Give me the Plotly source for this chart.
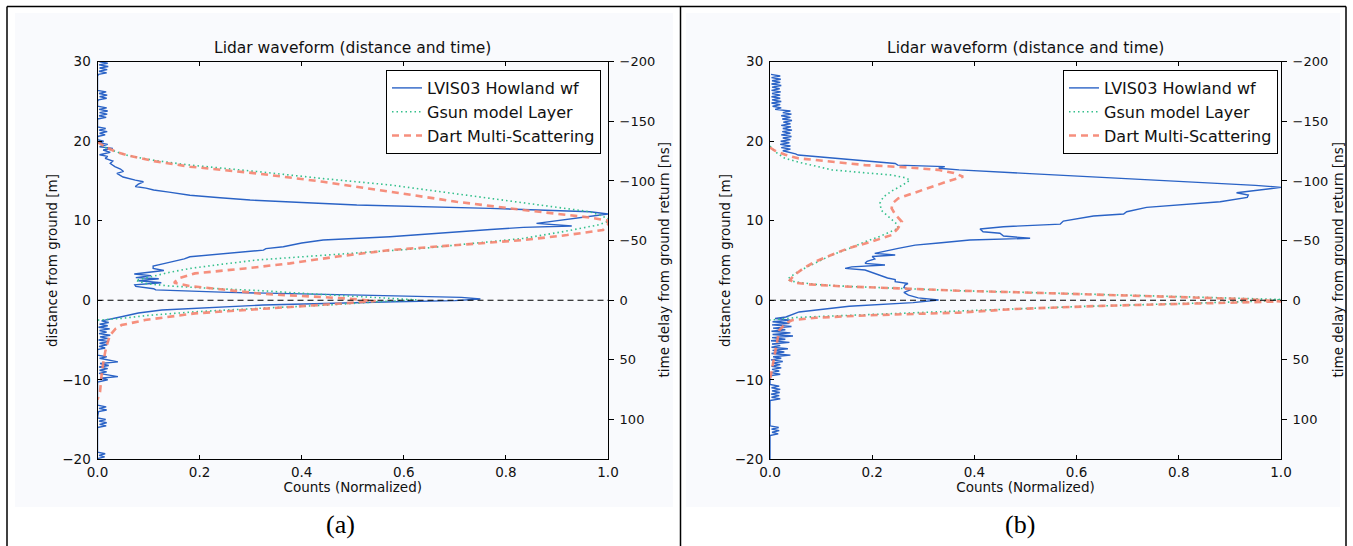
import plotly.graph_objects as go

# ---------------- data ----------------
# Panel (a)
lvis_a_dist = [30.0, 29.8, 29.6, 29.4, 29.2, 29.0, 28.8, 28.6, 28.4, 28.2, 26.4, 26.2, 26.0, 25.8, 25.6, 25.4, 25.2, 25.0,
               24.4, 24.2, 24.0, 23.8, 23.6, 23.4, 23.2, 23.0, 22.8, 21.8, 21.6, 21.4, 21.2, 21.0, 20.8, 20.6, 20.2,
               20.0, 19.8, 19.6, 19.3, 19.1, 18.9, 18.6, 18.3, 18.1, 17.85, 17.5, 17.2, 16.8, 16.5, 16.2, 15.96, 15.5,
               15.1, 14.9, 14.6, 14.3, 14.1, 13.86, 13.6, 13.2, 12.9, 12.6, 12.3, 11.97, 11.56, 11.13, 10.85, 10.6,
               10.0, 9.67, 9.33, 9.17, 8.9, 8.62, 7.99, 7.57, 7.2, 6.73, 6.5, 6.31, 5.9, 5.6, 5.47, 5.2, 4.84, 4.6,
               4.3, 4.0, 3.75, 3.6, 3.3, 3.1, 2.85, 2.7, 2.45, 2.2, 1.95, 1.75, 1.45, 1.3, 0.99, 0.65, 0.36, 0.15,
               -0.05, -0.19, -0.6, -1.23, -1.6, -2.07, -2.4, -2.6, -2.8, -3.0, -3.2, -3.4, -3.6, -3.8, -4.0, -4.2,
               -4.4, -4.6, -4.8, -5.0, -5.2, -5.4, -5.6, -5.8, -6.0, -6.2, -6.9, -7.1, -7.3, -7.55, -7.75, -7.95,
               -8.2, -8.4, -8.6, -8.8, -9.0, -9.2, -9.6, -9.8, -10.0, -10.3, -13.2, -13.4, -13.6, -13.8, -14.0,
               -14.8, -15.0, -15.2, -15.4, -15.6, -15.8, -16.0, -19.1, -19.3, -19.5, -19.7, -19.9, -20.0]
lvis_a_counts = [0.004, 0.02, 0.003, 0.021, 0.004, 0.019, 0.003, 0.018, 0.002, 0.0, 0.0, 0.017, 0.003, 0.019, 0.004, 0.018, 0.002, 0.0,
                 0.0, 0.018, 0.003, 0.02, 0.004, 0.019, 0.003, 0.017, 0.0, 0.0, 0.016, 0.003, 0.019, 0.004, 0.015, 0.0, 0.0,
                 0.012, 0.003, 0.02, 0.004, 0.03, 0.011, 0.025, 0.004, 0.02, 0.015, 0.03, 0.025, 0.034, 0.045, 0.051, 0.038, 0.05,
                 0.074, 0.09, 0.08, 0.074, 0.095, 0.11, 0.14, 0.181, 0.24, 0.299, 0.4, 0.508, 0.769, 0.965, 1.0, 0.97,
                 0.9, 0.86, 0.929, 0.834, 0.77, 0.704, 0.573, 0.442, 0.4, 0.364, 0.33, 0.325, 0.253, 0.21, 0.181, 0.17, 0.142, 0.13,
                 0.109, 0.109, 0.13, 0.11, 0.072, 0.105, 0.075, 0.12, 0.08, 0.125, 0.073, 0.075, 0.11, 0.114, 0.256, 0.517, 0.713, 0.75,
                 0.7, 0.583, 0.324, 0.126, 0.08, 0.047, 0.025, 0.008, 0.022, 0.004, 0.02, 0.002, 0.024, 0.004, 0.018, 0.003,
                 0.025, 0.005, 0.02, 0.002, 0.022, 0.004, 0.019, 0.003, 0.015, 0.0, 0.0, 0.018, 0.004, 0.025, 0.04, 0.005,
                 0.022, 0.003, 0.02, 0.004, 0.018, 0.003, 0.04, 0.005, 0.02, 0.0, 0.0, 0.017, 0.003, 0.018, 0.002,
                 0.0, 0.016, 0.003, 0.018, 0.004, 0.017, 0.0, 0.0, 0.015, 0.003, 0.014, 0.0, 0.0]

gsun_a_dist = [19.8, 19.2, 18.6, 18.2, 17.6, 17.0, 16.2, 15.3, 14.5, 13.4, 12.2, 11.13, 10.3, 9.9, 9.46, 8.6, 7.78, 7.1,
               6.53, 6.1, 5.69, 5.06, 4.5, 4.0, 3.5, 2.96, 2.5, 2.1, 1.8, 1.5, 1.2, 0.8, 0.5, 0.24, 0.05, -0.15, -0.6,
               -1.0, -1.45, -1.9, -2.28, -2.5]
gsun_a_counts = [0.0, 0.015, 0.04, 0.06, 0.11, 0.181, 0.311, 0.442, 0.573, 0.703, 0.834, 0.965, 1.0, 1.0, 0.98, 0.91, 0.834, 0.73,
                 0.638, 0.54, 0.442, 0.312, 0.24, 0.181, 0.14, 0.103, 0.075, 0.095, 0.14, 0.22, 0.322, 0.42, 0.5, 0.583, 0.625, 0.56, 0.452,
                 0.32, 0.191, 0.1, 0.047, 0.0]

dart_a_dist = [19.9, 19.3, 18.7, 18.2, 17.5, 16.8, 15.96, 14.9, 13.65, 12.39, 11.35, 10.4, 10.0, 9.5, 8.83, 8.2, 7.57, 6.9,
               6.31, 5.5, 4.64, 4.0, 3.38, 2.75, 2.2, 1.8, 1.3, 0.8, 0.24, -0.1, -0.4, -0.82, -1.65, -2.49, -3.12, -3.6,
               -4.4, -5.5, -6.5, -8.0, -9.4, -11.5, -12.5]
dart_a_counts = [0.0, 0.015, 0.035, 0.06, 0.11, 0.181, 0.311, 0.442, 0.573, 0.703, 0.834, 0.965, 1.0, 1.0, 0.99, 0.92, 0.834, 0.7,
                 0.573, 0.47, 0.377, 0.289, 0.191, 0.158, 0.15, 0.18, 0.25, 0.324, 0.485, 0.545, 0.48, 0.387, 0.191, 0.093, 0.047, 0.035,
                 0.0245, 0.019, 0.015, 0.011, 0.008, 0.005, 0.0]

# Panel (b)
lvis_b_dist = [28.4, 28.2, 28.0, 27.8, 27.6, 27.4, 27.2, 27.0, 26.8, 26.6, 26.4, 26.2, 26.0, 25.8, 25.6, 25.4, 25.2, 25.0,
               24.8, 24.6, 24.4, 24.2, 24.0, 23.8, 23.6, 23.4, 23.2, 23.0, 22.8, 22.6, 22.4, 22.2, 22.0, 21.8, 21.6,
               21.4, 21.2, 21.0, 20.8, 20.6, 20.4, 20.2, 20.0, 19.8, 19.6, 19.4, 19.2, 19.0, 18.8, 18.6, 18.4, 18.26,
               18.0, 17.6, 17.2, 17.0, 16.8, 16.6, 16.4, 15.96, 15.4, 14.9, 14.7, 14.45, 14.2, 13.52, 13.23, 12.94,
               12.39, 11.68, 11.13, 10.84, 10.59, 9.96, 9.58, 9.25, 8.96, 8.62, 8.42, 8.08, 7.79, 7.57, 7.2, 6.94,
               6.52, 6.1, 5.9, 5.7, 5.5, 5.2, 4.9, 4.64, 4.43, 4.2, 4.01, 3.8, 3.5, 3.17, 2.8, 2.6, 2.33, 2.1, 1.91,
               1.6, 1.3, 1.0, 0.65, 0.3, 0.03, -0.3, -0.75, -1.47, -2.1, -2.3, -2.5, -2.7, -2.9, -3.1, -3.3, -3.5,
               -3.7, -3.9, -4.1, -4.3, -4.5, -4.7, -4.9, -5.1, -5.3, -5.5, -5.7, -5.9, -6.1, -6.3, -6.5, -6.7, -6.9,
               -7.1, -7.3, -7.5, -7.7, -7.9, -8.1, -8.3, -8.5, -8.7, -8.9, -9.1, -9.3, -9.5, -10.6, -10.8, -11.0,
               -11.2, -11.4, -11.6, -11.8, -12.0, -12.2, -12.4, -12.6, -15.8, -16.0, -16.2, -16.4, -16.6, -16.8,
               -17.0, -20.0]
lvis_b_counts = [0.002, 0.02, 0.003, 0.021, 0.004, 0.02, 0.003, 0.022, 0.004, 0.019, 0.003, 0.021, 0.004, 0.02, 0.003, 0.02, 0.004, 0.022,
                 0.003, 0.02, 0.005, 0.022, 0.01, 0.04, 0.025, 0.042, 0.022, 0.04, 0.024, 0.043, 0.026, 0.04, 0.022, 0.041, 0.025,
                 0.043, 0.024, 0.04, 0.022, 0.042, 0.025, 0.04, 0.021, 0.038, 0.02, 0.04, 0.022, 0.04, 0.025, 0.04, 0.05, 0.055,
                 0.1, 0.18, 0.245, 0.25, 0.342, 0.33, 0.37, 0.499, 0.66, 0.828, 0.887, 0.95, 1.0, 0.913, 0.936, 0.934,
                 0.881, 0.737, 0.698, 0.692, 0.633, 0.574, 0.568, 0.457, 0.411, 0.417, 0.45, 0.457, 0.509, 0.391, 0.33, 0.284,
                 0.251, 0.215, 0.205, 0.245, 0.2, 0.205, 0.19, 0.186, 0.225, 0.16, 0.147, 0.186, 0.2, 0.212, 0.23, 0.245, 0.245, 0.27, 0.264,
                 0.262, 0.275, 0.262, 0.271, 0.29, 0.33, 0.28, 0.155, 0.057, 0.031, 0.01, 0.04, 0.005, 0.038, 0.004, 0.042, 0.006,
                 0.03, 0.003, 0.04, 0.005, 0.045, 0.004, 0.03, 0.002, 0.038, 0.004, 0.02, 0.003, 0.035, 0.005, 0.028, 0.003, 0.04,
                 0.006, 0.022, 0.002, 0.025, 0.004, 0.02, 0.003, 0.022, 0.004, 0.018, 0.002, 0.02, 0.0, 0.0, 0.018, 0.003,
                 0.02, 0.004, 0.019, 0.002, 0.018, 0.003, 0.02, 0.0, 0.0, 0.017, 0.003, 0.018, 0.004, 0.016,
                 0.0, 0.0]

gsun_b_dist = [19.4, 19.0, 18.5, 17.85, 17.3, 16.8, 16.4, 16.0, 15.75, 15.4, 15.12, 14.5, 13.8, 13.0, 12.2, 11.3, 10.4, 9.6,
               9.04, 8.6, 7.9, 7.36, 6.5, 5.69, 4.9, 4.1, 3.4, 2.75, 2.55, 2.3, 2.0, 1.75, 1.5, 1.2, 0.99, 0.7, 0.45,
               0.25, 0.1, -0.1, -0.4, -0.8, -1.32, -1.78, -2.15, -2.49]
gsun_b_counts = [0.0, 0.005, 0.014, 0.029, 0.06, 0.095, 0.121, 0.19, 0.238, 0.265, 0.274, 0.26, 0.24, 0.222, 0.215, 0.218, 0.235, 0.248,
                 0.251, 0.235, 0.21, 0.186, 0.155, 0.121, 0.095, 0.07, 0.05, 0.036, 0.035, 0.05, 0.088, 0.15, 0.251, 0.37, 0.499, 0.65, 0.8,
                 0.92, 1.0, 0.97, 0.8, 0.6, 0.382, 0.186, 0.055, 0.0]

dart_b_dist = [19.2, 18.8, 18.3, 17.85, 17.5, 17.0, 16.7, 16.4, 16.0, 15.54, 15.0, 14.28, 13.5, 12.82, 12.2, 11.56, 10.8,
               9.87, 9.0, 8.2, 7.4, 6.53, 5.7, 4.84, 4.0, 3.2, 2.54, 2.2, 2.0, 1.75, 1.5, 1.2, 0.99, 0.7, 0.4, 0.15,
               -0.15, -0.35, -0.7, -1.1, -1.55, -1.9, -2.2, -2.5, -2.9, -3.8, -5.9, -8.4, -10.0]
dart_b_counts = [0.0, 0.01, 0.03, 0.055, 0.11, 0.186, 0.27, 0.329, 0.36, 0.378, 0.35, 0.316, 0.28, 0.251, 0.24, 0.238, 0.245,
                 0.258, 0.25, 0.238, 0.2, 0.153, 0.12, 0.088, 0.065, 0.048, 0.039, 0.05, 0.075, 0.14, 0.251, 0.37, 0.493, 0.64, 0.8, 0.93,
                 1.0, 0.88, 0.65, 0.48, 0.37, 0.19, 0.09, 0.044, 0.031, 0.018, 0.012, 0.006, 0.0]

# ticks
x_ticks = [0.0, 0.2, 0.4, 0.6, 0.8, 1.0]
x_tick_text = ["0.0", "0.2", "0.4", "0.6", "0.8", "1.0"]
y_ticks = [-20, -10, 0, 10, 20, 30]
y_tick_text = ["\u221220", "\u221210", "0", "10", "20", "30"]
t_ticks = [-200, -150, -100, -50, 0, 50, 100]
t_tick_text = ["\u2212200", "\u2212150", "\u2212100", "\u221250", "0", "50", "100"]
dist_range = [-20, 30]
ns_per_m = 200.0 / 30.0
series_names = ["LVIS03 Howland wf", "Gsun model Layer", "Dart Multi-Scattering"]
panel_labels = ["(a)", "(b)"]
plot_title = "Lidar waveform (distance and time)"
right_title = "time delay from ground return [ns]"

# ---------------- figure ----------------
W, H = 1353, 546
FONT = "DejaVu Sans"
BLUE = "#2b63c6"
GREEN = "#35c08c"
SALMON = "#f5836f"


def px_x(p):
    return p / W


def px_y(p):
    return (H - p) / H


fig = go.Figure()

panels = [
    dict(lvis=(lvis_a_dist, lvis_a_counts), gsun=(gsun_a_dist, gsun_a_counts), dart=(dart_a_dist, dart_a_counts),
         x="x", y="y", t="y3", legend="legend"),
    dict(lvis=(lvis_b_dist, lvis_b_counts), gsun=(gsun_b_dist, gsun_b_counts), dart=(dart_b_dist, dart_b_counts),
         x="x2", y="y2", t="y4", legend="legend2"),
]

for p in panels:
    fig.add_trace(go.Scatter(x=p["lvis"][1], y=p["lvis"][0], mode="lines", name=series_names[0],
                             line=dict(color=BLUE, width=1.4), xaxis=p["x"], yaxis=p["y"], legend=p["legend"]))
    fig.add_trace(go.Scatter(x=p["gsun"][1], y=p["gsun"][0], mode="lines", name=series_names[1],
                             line=dict(color=GREEN, width=1.6, dash="1.5px,3px"), xaxis=p["x"], yaxis=p["y"],
                             legend=p["legend"]))
    fig.add_trace(go.Scatter(x=p["dart"][1], y=p["dart"][0], mode="lines", name=series_names[2],
                             line=dict(color=SALMON, width=2.6, dash="7px,5px"), xaxis=p["x"], yaxis=p["y"],
                             legend=p["legend"], opacity=0.9))
    # same waveform expressed as time delay (ns) on the twin axis, drawn invisibly so the axis is shown
    fig.add_trace(go.Scatter(x=p["lvis"][1], y=[-d * ns_per_m for d in p["lvis"][0]], mode="lines",
                             line=dict(width=0, color="rgba(0,0,0,0)"), hoverinfo="skip", showlegend=False,
                             xaxis=p["x"], yaxis=p["t"]))

x_domains = [[px_x(97.5), px_x(608)], [px_x(770), px_x(1281)]]
y_domain = [px_y(459.3), px_y(61.7)]

tickfont = dict(family=FONT, size=13.5, color="#111")
rtickfont = dict(family=FONT, size=13, color="#111")
titlefont = dict(family=FONT, size=13.5, color="#111")

for i, (xa, ya, ta) in enumerate([("xaxis", "yaxis", "yaxis3"), ("xaxis2", "yaxis2", "yaxis4")]):
    xname = "x" if i == 0 else "x2"
    yname = "y" if i == 0 else "y2"
    fig.layout[xa] = dict(domain=x_domains[i], range=[0, 1], anchor=yname, tickvals=x_ticks, ticktext=x_tick_text,
                          ticks="inside", ticklen=4, tickcolor="black", showline=True, linecolor="black", linewidth=1,
                          mirror="ticks", showgrid=False, zeroline=False, tickfont=tickfont,
                          title=dict(text="Counts (Normalized)", font=titlefont, standoff=2), automargin=False)
    fig.layout[ya] = dict(domain=y_domain, range=dist_range, anchor=xname, tickvals=y_ticks, ticktext=y_tick_text,
                          ticks="inside", ticklen=4, tickcolor="black", showline=True, linecolor="black", linewidth=1,
                          mirror=True, showgrid=False, zeroline=False, tickfont=tickfont, ticklabelstandoff=3,
                          title=dict(text="distance from ground [m]", font=titlefont, standoff=1), automargin=False)
    fig.layout[ta] = dict(overlaying=yname, side="right", anchor=xname,
                          range=[-dist_range[0] * ns_per_m, -dist_range[1] * ns_per_m],
                          tickvals=t_ticks, ticktext=t_tick_text, ticks="outside", ticklen=5, tickcolor="black",
                          showline=False, showgrid=False, zeroline=False, tickfont=rtickfont, ticklabelstandoff=3,
                          automargin=False)

shapes = []
# light panel backgrounds
for x0, x1 in [(15, 673), (686, 1340)]:
    shapes.append(dict(type="rect", xref="paper", yref="paper", x0=px_x(x0), x1=px_x(x1), y0=px_y(507), y1=px_y(13),
                       fillcolor="#f9fafd", line=dict(width=0), layer="below"))
# outer frame lines
shapes.append(dict(type="line", xref="paper", yref="paper", x0=px_x(7), x1=px_x(1346), y0=px_y(6.5), y1=px_y(6.5),
                   line=dict(color="black", width=1.5)))
for xv in [7, 680.5, 1346]:
    shapes.append(dict(type="line", xref="paper", yref="paper", x0=px_x(xv), x1=px_x(xv), y0=0, y1=px_y(6.5),
                       line=dict(color="black", width=1.5)))
# zero reference lines
for xr, yr in [("x domain", "y"), ("x2 domain", "y2")]:
    shapes.append(dict(type="line", xref=xr, yref=yr, x0=0, x1=1, y0=0, y1=0,
                       line=dict(color="black", width=1.2, dash="6px,4px")))
fig.update_layout(shapes=shapes)

annotations = []
for i in range(2):
    cx = (x_domains[i][0] + x_domains[i][1]) / 2
    annotations.append(dict(text=plot_title, xref="paper", yref="paper", x=cx, y=px_y(48), xanchor="center",
                            yanchor="middle", showarrow=False, font=dict(family=FONT, size=15.5, color="#111")))
    annotations.append(dict(text=right_title, xref="paper", yref="paper", x=px_x([663, 1337][i]),
                            y=(y_domain[0] + y_domain[1]) / 2, xanchor="center", yanchor="middle", textangle=-90,
                            showarrow=False, font=titlefont))
    annotations.append(dict(text=panel_labels[i], xref="paper", yref="paper", x=px_x([340, 1020][i]), y=px_y(524),
                            xanchor="center", yanchor="middle", showarrow=False,
                            font=dict(family="Liberation Serif", size=26, color="black")))
fig.update_layout(annotations=annotations)

legend_common = dict(yanchor="top", xanchor="right", bgcolor="rgba(255,255,255,0.95)", bordercolor="black",
                     borderwidth=1, font=dict(family=FONT, size=16, color="#111"), tracegroupgap=0)
fig.update_layout(
    width=W, height=H, margin=dict(l=0, r=0, t=0, b=0),
    paper_bgcolor="white", plot_bgcolor="rgba(0,0,0,0)",
    showlegend=True,
    legend=dict(x=px_x(601), y=px_y(70), **legend_common),
    legend2=dict(x=px_x(1278), y=px_y(70), **legend_common),
)

fig.write_html("out.html", config={"displayModeBar": False},
               post_script="document.body.style.margin='0';document.body.style.padding='0';")
